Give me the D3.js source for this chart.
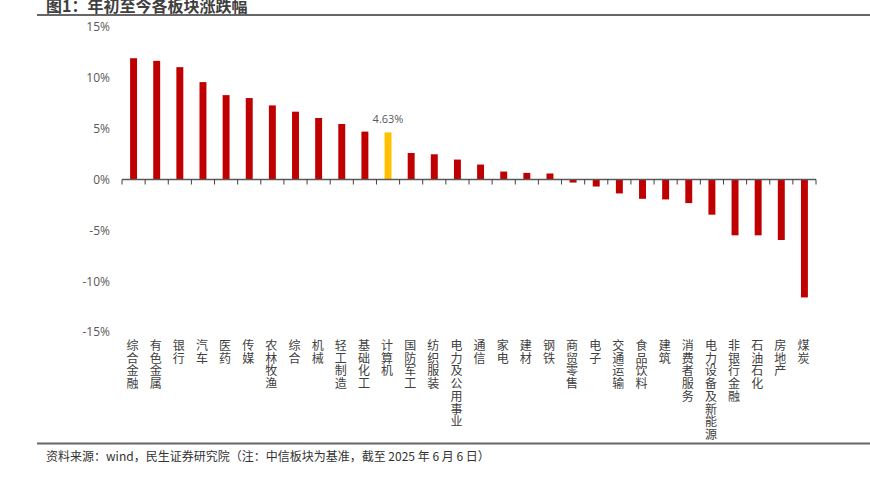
<!DOCTYPE html>
<html>
<head>
<meta charset="utf-8">
<script src="https://cdn.jsdelivr.net/npm/d3@7"></script>
<style>
  body { margin: 0; background: #fff; }
  text { font-family: "Open Sans", "Noto Sans CJK SC", sans-serif; }
  .cn { font-family: "Noto Sans CJK SC", sans-serif; }
</style>
</head>
<body>
<div id="chart"></div>
<script>
// data
var categories = ["综合金融","有色金属","银行","汽车","医药","传媒","农林牧渔","综合","机械","轻工制造",
    "基础化工","计算机","国防军工","纺织服装","电力及公用事业","通信","家电","建材","钢铁","商贸零售",
    "电子","交通运输","食品饮料","建筑","消费者服务","电力设备及新能源","非银行金融","石油石化","房地产","煤炭"];
var values = [11.93, 11.67, 11.05, 9.58, 8.30, 8.01, 7.29, 6.67, 6.05, 5.46,
    4.71, 4.63, 2.61, 2.48, 1.96, 1.47, 0.78, 0.65, 0.59, -0.30,
    -0.69, -1.37, -1.90, -1.96, -2.32, -3.46, -5.49, -5.49, -5.95, -11.60];
var highlight = "计算机";
var yTicks = [15, 10, 5, 0, -5, -10, -15];
var title = "图1：年初至今各板块涨跌幅";
var source = "资料来源：wind，民生证券研究院（注：中信板块为基准，截至 2025 年 6 月 6 日）";

var W = 870, H = 477;
var svg = d3.select("#chart").append("svg")
    .attr("width", W)
    .attr("height", H);

// title + rules
svg.append("text")
    .attr("class", "cn")
    .attr("x", 46)
    .attr("y", 12)
    .attr("font-size", 16)
    .attr("font-weight", "bold")
    .attr("fill", "#404040")
    .text(title);
svg.append("line")
    .attr("x1", 37).attr("x2", W)
    .attr("y1", 15).attr("y2", 15)
    .attr("stroke", "#666").attr("stroke-width", 2);
svg.append("line")
    .attr("x1", 37).attr("x2", W)
    .attr("y1", 443.5).attr("y2", 443.5)
    .attr("stroke", "#666").attr("stroke-width", 2);
svg.append("text")
    .attr("class", "cn")
    .attr("x", 46)
    .attr("y", 461)
    .attr("font-size", 12)
    .attr("fill", "#333")
    .text(source);

var x = d3.scaleBand()
    .domain(categories)
    .range([122, 816])
    .paddingInner(0.7)
    .paddingOuter(0.35);

var y = d3.scaleLinear()
    .domain([-15, 15])
    .range([332, 27]);

// y labels, no axis line
var yAxis = svg.append("g")
    .attr("transform", "translate(110,0)")
    .call(d3.axisLeft(y).tickValues(yTicks).tickSize(0).tickPadding(0)
        .tickFormat(function(d) { return d + "%"; }));
yAxis.select(".domain").remove();
yAxis.selectAll("text")
    .attr("font-size", 12)
    .attr("fill", "#595959")
    .style("font-family", "'Open Sans', sans-serif");

// bars
svg.selectAll("rect.bar")
    .data(categories)
    .enter()
    .append("rect")
    .attr("class", "bar")
    .attr("x", function(d) { return x(d); })
    .attr("y", function(d, i) { return y(Math.max(0, values[i])); })
    .attr("width", x.bandwidth())
    .attr("height", function(d, i) { return Math.abs(y(values[i]) - y(0)); })
    .attr("fill", function(d) { return d == highlight ? "#FFC000" : "#C00000"; });

// value label on highlighted bar
var hi = categories.indexOf(highlight);
svg.append("text")
    .attr("x", x(highlight) + x.bandwidth() / 2)
    .attr("y", y(values[hi]) - 9)
    .attr("text-anchor", "middle")
    .attr("font-size", 11)
    .attr("fill", "#595959")
    .text(values[hi].toFixed(2) + "%");

// x axis line with boundary ticks
var y0 = y(0);
svg.append("line")
    .attr("x1", 122).attr("x2", 816)
    .attr("y1", y0).attr("y2", y0)
    .attr("stroke", "#595959").attr("stroke-width", 1.5);
var step = x.step();
svg.selectAll("line.tick")
    .data(d3.range(categories.length + 1))
    .enter()
    .append("line")
    .attr("class", "tick")
    .attr("x1", function(i) { return 122 + step * i; })
    .attr("x2", function(i) { return 122 + step * i; })
    .attr("y1", y0).attr("y2", y0 + 5)
    .attr("stroke", "#404040").attr("stroke-width", 1);

// vertical category labels, one char per line
var labels = svg.selectAll("text.cat")
    .data(categories)
    .enter()
    .append("text")
    .attr("class", "cat cn")
    .attr("font-size", 12)
    .attr("fill", "#404040")
    .attr("text-anchor", "middle");
labels.each(function(d) {
    var t = d3.select(this);
    var cx = x(d) + x.bandwidth() / 2 - 1;
    d.split("").forEach(function(ch, j) {
        t.append("tspan")
            .attr("x", cx)
            .attr("y", 350 + j * 12.7)
            .text(ch);
    });
});
</script>
</body>
</html>
